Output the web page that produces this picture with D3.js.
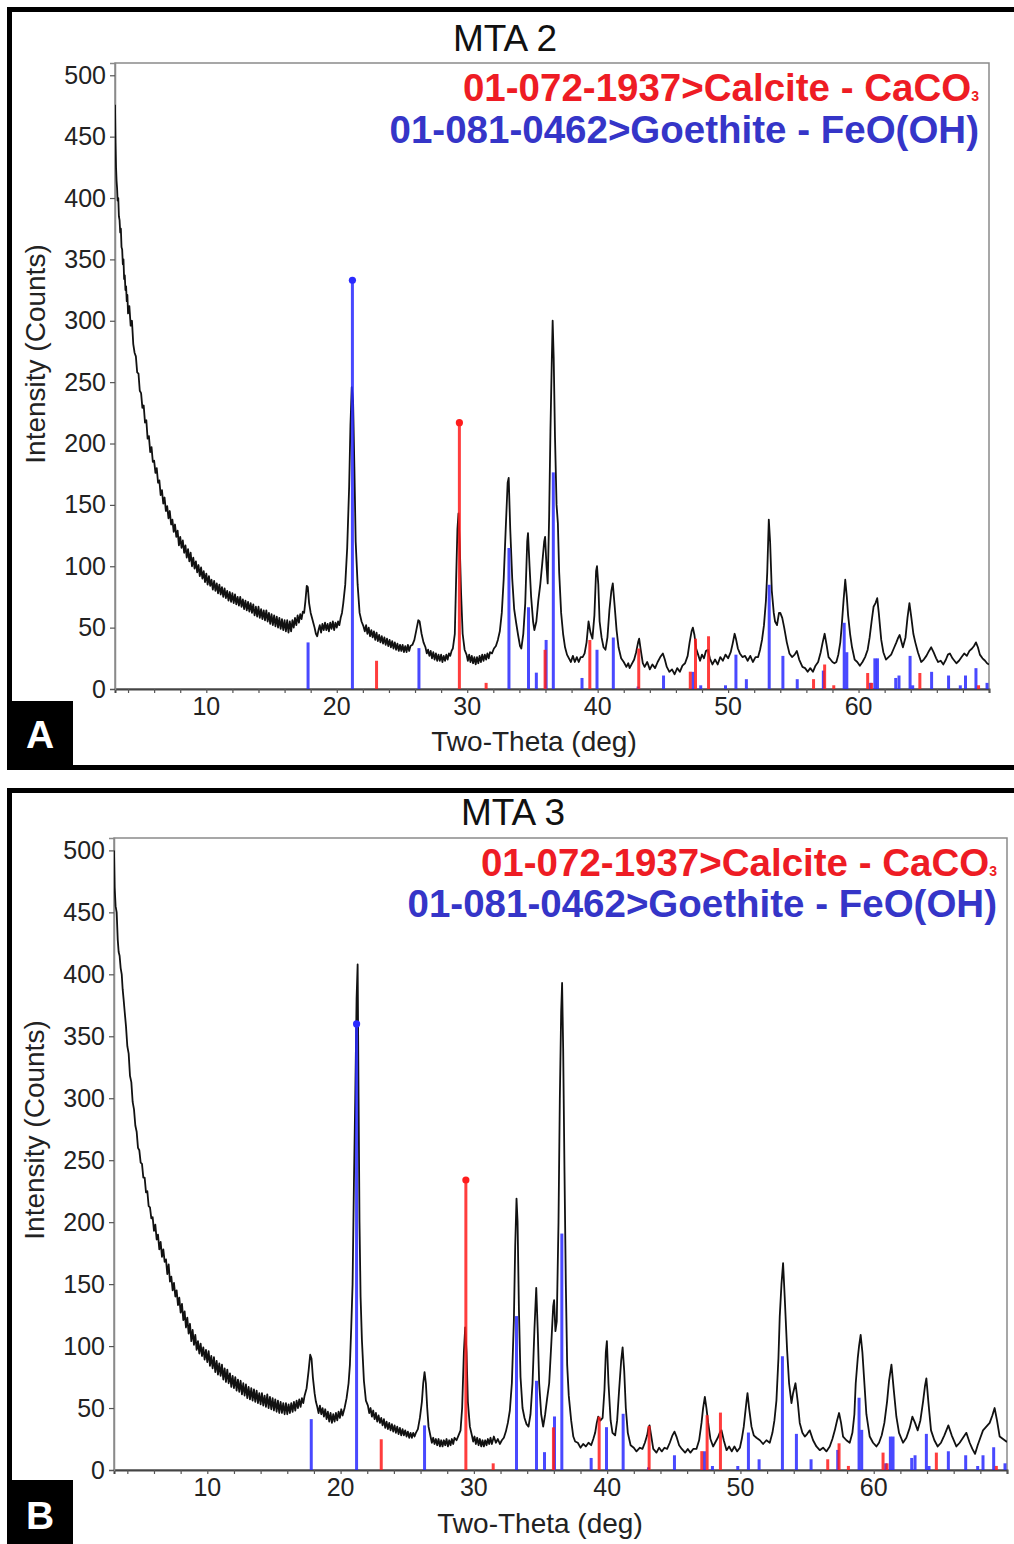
<!DOCTYPE html>
<html>
<head>
<meta charset="utf-8">
<script src="https://cdn.jsdelivr.net/npm/d3@7"></script>
<style>
  body { margin: 0; background: #fff; }
</style>
</head>
<body>
<div id="chart"></div>
<script>
var FONT = '"Liberation Sans", Arial, Helvetica, sans-serif';

// axis ticks
var xLabelTicks = [10, 20, 30, 40, 50, 60];
var xMinorTicks = [4, 6, 8, 10, 12, 14, 16, 18, 20, 22, 24, 26, 28, 30, 32, 34, 36, 38, 40, 42, 44, 46, 48, 50, 52, 54, 56, 58, 60, 62, 64, 66, 68, 70];
var yTicks = [0, 50, 100, 150, 200, 250, 300, 350, 400, 450, 500];

// reference cards: 2-theta position and relative intensity (%)
var goethitePos = [17.8, 21.2, 26.3, 33.2, 34.7, 35.3, 36.05, 36.6, 38.8, 39.95, 41.2, 43.1, 45.05, 47.3, 47.9, 49.8, 50.6, 51.4, 53.15, 54.2, 55.3, 57.3, 58.9, 59.1, 60.9, 61.25, 61.45, 62.85, 63.1, 63.95, 64.15, 65.6, 66.9, 67.8, 68.2, 69.0, 69.85];
var goethiteRel = [11.4, 100, 10, 34.5, 20, 4, 12, 53, 2.7, 9.6, 12.6, 0.6, 3.3, 4.2, 0.9, 0.9, 8.4, 2.4, 25.5, 8.1, 2.4, 4.5, 16.2, 9, 1.5, 7.5, 7.5, 2.7, 3.3, 8.1, 0.9, 4.2, 3.3, 0.9, 3.3, 5.1, 1.5];
var calcitePos = [23.05, 29.4, 31.45, 35.97, 39.4, 43.15, 47.1, 47.5, 48.5, 56.55, 57.4, 58.1, 60.7, 61.0, 64.7, 69.2];
var calciteRel = [10.6, 100, 2.3, 14.7, 18.4, 15.2, 6.5, 18.9, 19.8, 3.7, 9.2, 1.4, 6, 2.3, 6, 1.4];

// counts reached by the 100% stick in each panel
var goethiteTop = [333, 360];
var calciteTop = [217, 234];

var panelTitles = ['MTA 2', 'MTA 3'];
var panelLetters = ['A', 'B'];
var legendCalcite = '01-072-1937>Calcite - CaCO';
var legendGoethite = '01-081-0462>Goethite - FeO(OH)';

// measured patterns [2-theta, counts]
var mta2 = [[3.00,476],[3.04,445],[3.08,425],[3.12,414],[3.16,408],[3.2,398],[3.25,400],[3.3,385],[3.35,382],[3.4,372],[3.45,375],[3.5,360],[3.55,358],[3.6,346],[3.65,350],[3.7,334],[3.75,337],[3.8,325],[3.85,328],[3.9,316],[3.95,321],
[4.0,306],[4.1,312],[4.2,296],[4.3,300],[4.4,281],[4.5,274],[4.6,271],[4.7,258],[4.8,257],[4.9,243],[5.0,241],[5.1,229],[5.2,231],[5.3,217],[5.4,219],[5.5,204],[5.6,206],[5.7,193],[5.8,197],[5.9,185],[6.0,186],[6.1,176],[6.2,180],[6.3,168],[6.4,170],[6.5,158],[6.6,162],[6.7,151],[6.8,156],[6.9,145],[7.0,149],[7.1,139],[7.2,145],[7.3,134],[7.4,138],[7.5,128],[7.6,134],[7.7,124],[7.8,129],[7.9,117],[8.0,124],[8.1,115],[8.2,121],[8.3,111],[8.4,117],[8.5,107],[8.6,114],[8.7,104],[8.8,111],[8.9,100],[9.0,107],[9.1,98],[9.2,104],[9.3,95],[9.4,101],[9.5,92],[9.6,99],[9.7,90],[9.8,96],[9.9,87],[10.0,94],[10.1,85],[10.2,92],[10.3,84],[10.4,89],[10.5,81],[10.6,88],[10.7,80],[10.8,86],[10.9,78],[11.0,85],[11.1,77],[11.2,83],[11.3,75],[11.4,82],[11.5,74],[11.6,80],[11.7,72],[11.8,79],[11.9,71],[12.0,78],[12.1,70],[12.2,77],[12.3,69],[12.4,75],[12.5,68],[12.6,75],[12.7,67],[12.8,73],[12.9,65],[13.0,72],[13.1,64],[13.2,71],[13.3,63],[13.4,70],[13.5,62],[13.6,69],[13.7,60],[13.8,67],[13.9,59],[14.0,67],[14.1,58],[14.2,65],[14.3,57],[14.4,64],[14.5,56],[14.6,64],[14.7,55],[14.8,62],[14.9,53],[15.0,61],[15.1,52],[15.2,60],[15.3,51],[15.4,59],[15.5,50],[15.6,58],[15.7,49],[15.8,57],[15.9,48],[16.0,56],[16.1,47],[16.2,56],[16.3,46],[16.4,55],[16.5,47],[16.6,56],[16.7,50],[16.8,58],[16.9,52],[17.0,60],[17.1,54],[17.2,61],[17.3,57],[17.4,63],[17.5,62],[17.6,72],[17.7,84],[17.78,83],[17.88,70],[18.0,62],[18.1,58],[18.2,54],[18.3,50],[18.4,45],[18.5,43],[18.6,48],[18.7,52],[18.8,46],[18.9,53],[19.0,48],[19.1,54],[19.2,48],[19.3,53],[19.4,47],[19.5,54],[19.6,49],[19.7,55],[19.8,48],[19.9,54],[20.0,50],[20.1,55],[20.2,52],[20.3,58],
[20.4,62],[20.5,70],[20.65,85],[20.8,115],[20.95,165],[21.05,215],[21.15,246],[21.25,235],[21.35,181],[21.45,120],[21.6,85],[21.75,62],[21.9,55],
[22.05,51],[22.15,47],[22.25,52],[22.35,45],[22.45,50],[22.55,43],[22.65,48],[22.75,42],[22.85,47],[22.95,40],[23.05,46],[23.15,39],[23.25,44],[23.35,38],[23.45,43],[23.55,37],[23.65,42],[23.75,36],[23.85,41],[23.95,35],[24.05,40],[24.15,34],[24.25,39],[24.35,33],[24.45,38],[24.55,32],[24.65,37],[24.75,31],[24.85,36],[24.95,31],[25.05,36],[25.15,30],[25.25,35],[25.35,30],[25.45,36],[25.55,31],[25.65,35],[25.8,36],[25.95,40],[26.1,48],[26.25,56],[26.35,55],[26.5,45],[26.65,38],
[26.8,34],[26.9,29],[27.0,32],[27.1,27],[27.2,31],[27.3,25],[27.4,30],[27.5,24],[27.6,29],[27.7,23],[27.8,28],[27.9,23],[28.0,28],[28.1,22],[28.2,27],[28.3,23],[28.4,28],[28.5,24],[28.6,29],[28.7,27],[28.8,31],[28.9,33],
[29.05,45],[29.15,89],[29.25,130],[29.33,143],[29.42,120],[29.53,78],[29.65,45],[29.8,32],
[29.95,28],[30.05,23],[30.15,28],[30.25,22],[30.35,27],[30.45,21],[30.55,26],[30.65,20],[30.75,26],[30.85,21],[30.95,27],[31.05,22],[31.15,28],[31.25,23],[31.35,28],[31.45,24],[31.55,29],[31.65,25],[31.75,30],[31.9,29],
[32.05,33],[32.2,35],[32.35,40],[32.5,47],[32.65,62],[32.8,90],[32.95,130],[33.1,168],[33.18,172],[33.3,130],[33.45,90],[33.6,65],[33.75,54],[33.9,44],[34.05,35],[34.15,33],[34.3,45],[34.45,70],[34.6,120],[34.66,127],[34.78,100],[34.9,75],[35.05,55],[35.15,48],[35.3,55],[35.45,72],[35.6,85],[35.75,102],[35.9,120],[35.97,124],[36.08,100],[36.17,86],[36.28,140],[36.38,210],[36.48,265],[36.55,300],[36.63,270],[36.73,205],[36.85,150],[36.95,135],[37.05,95],[37.2,62],[37.35,45],[37.5,34],[37.65,28],[37.8,25],[37.95,22],[38.1,27],[38.25,22],[38.4,26],[38.55,22],[38.7,26],[38.85,26],[39.0,29],[39.15,38],[39.3,55],[39.45,46],[39.6,41],[39.75,60],[39.88,96],[39.95,100],[40.05,85],[40.15,55],[40.3,42],[40.45,34],[40.6,32],[40.75,42],[40.9,64],[41.05,80],[41.16,86],[41.3,68],[41.45,48],[41.6,34],[41.8,25],[42.0,22],[42.2,18],[42.35,21],[42.45,17],[42.6,20],[42.8,24],[42.95,30],[43.1,38],[43.18,41],[43.3,32],[43.46,21],[43.6,18],[43.8,22],[44.0,16],[44.2,20],[44.4,17],[44.6,22],[44.8,26],[45.0,29],[45.15,24],[45.3,18],[45.5,14],[45.7,16],[45.9,12],[46.1,17],[46.3,14],[46.5,19],[46.7,21],[46.9,27],[47.05,38],[47.2,47],[47.3,50],[47.42,44],[47.55,33],[47.7,28],[47.85,23],[48.0,28],[48.15,25],[48.3,31],[48.45,32],[48.6,25],[48.8,20],[49.0,24],[49.2,20],[49.4,26],[49.6,23],[49.8,28],[50.0,25],[50.2,30],[50.35,37],[50.5,45],[50.6,41],[50.75,33],[50.9,29],[51.1,26],[51.3,27],[51.5,23],[51.7,27],[51.9,22],[52.1,26],[52.3,26],[52.45,32],[52.6,40],[52.75,52],[52.9,72],[53.0,95],[53.12,138],[53.22,120],[53.35,80],[53.5,62],[53.6,55],[53.75,52],[53.9,62],[54.0,62],[54.15,58],[54.3,50],[54.5,38],[54.7,29],[54.9,26],[55.1,28],[55.27,31],[55.45,24],[55.7,18],[55.9,17],[56.1,14],[56.3,17],[56.5,14],[56.7,19],[56.9,22],[57.1,30],[57.25,38],[57.4,45],[57.55,36],[57.7,26],[57.85,24],[58.0,22],[58.15,21],[58.3,22],[58.45,28],[58.6,38],[58.7,50],[58.85,72],[58.98,89],[59.1,75],[59.2,60],[59.35,45],[59.5,34],[59.7,24],[59.9,22],[60.1,19],[60.3,22],[60.5,26],[60.7,32],[60.85,42],[61.0,55],[61.15,67],[61.3,70],[61.43,74],[61.55,62],[61.74,40],[61.9,30],[62.1,24],[62.3,26],[62.5,28],[62.7,33],[62.9,38],[63.05,42],[63.15,44],[63.4,34],[63.6,42],[63.75,58],[63.9,70],[64.05,58],[64.2,45],[64.35,38],[64.55,30],[64.8,22],[65.0,24],[65.2,27],[65.4,31],[65.57,34],[65.75,30],[65.95,25],[66.1,22],[66.3,23],[66.5,20],[66.7,24],[66.85,28],[67.0,29],[67.2,25],[67.5,21],[67.7,23],[67.9,26],[68.1,29],[68.3,27],[68.5,31],[68.7,33],[68.85,35],[69.0,38],[69.15,34],[69.3,28],[69.5,25],[69.7,23],[69.85,21],[70.0,20]];

var mta3 = [[3.0,500],[3.05,470],[3.12,455],[3.2,450],[3.28,428],[3.35,418],[3.42,415],[3.5,405],[3.58,400],[3.65,388],[3.72,380],[3.8,370],[3.9,358],
[4.0,342],[4.1,336],[4.2,318],[4.3,313],[4.4,297],[4.5,291],[4.6,278],[4.7,273],[4.8,260],[4.9,258],[5.0,248],[5.1,247],[5.2,236],[5.3,236],[5.4,224],[5.5,225],[5.6,213],[5.7,212],[5.8,203],[5.9,204],[6.0,193],[6.1,198],[6.2,186],[6.3,190],[6.4,178],[6.5,184],[6.6,172],[6.7,178],[6.8,168],[6.9,170],[7.0,158],[7.1,166],[7.2,152],[7.3,156],[7.4,145],[7.5,151],[7.6,140],[7.7,145],[7.8,133],[7.9,139],[8.0,127],[8.1,134],[8.2,121],[8.3,128],[8.4,115],[8.5,123],[8.6,110],[8.7,118],[8.8,104],[8.9,113],[9.0,101],[9.1,109],[9.2,97],[9.3,104],[9.4,94],[9.5,102],[9.6,92],[9.7,99],[9.8,89],[9.9,97],[10.0,87],[10.1,96],[10.2,84],[10.3,92],[10.4,82],[10.5,91],[10.6,79],[10.7,88],[10.8,77],[10.9,86],[11.0,76],[11.1,85],[11.2,73],[11.3,82],[11.4,71],[11.5,81],[11.6,70],[11.7,78],[11.8,67],[11.9,76],[12.0,66],[12.1,75],[12.2,64],[12.3,73],[12.4,63],[12.5,72],[12.6,61],[12.7,70],[12.8,60],[12.9,69],[13.0,58],[13.1,67],[13.2,57],[13.3,66],[13.4,56],[13.5,65],[13.6,55],[13.7,64],[13.8,54],[13.9,62],[14.0,53],[14.1,62],[14.2,52],[14.3,60],[14.4,51],[14.5,61],[14.6,50],[14.7,59],[14.8,49],[14.9,58],[15.0,48],[15.1,57],[15.2,47],[15.3,56],[15.4,46],[15.5,55],[15.6,46],[15.7,54],[15.8,45],[15.9,54],[16.0,45],[16.1,53],[16.2,46],[16.3,54],[16.4,47],[16.5,55],[16.6,48],[16.7,56],[16.8,50],[16.9,57],[17.0,51],[17.1,58],[17.2,54],[17.3,60],
[17.45,66],[17.6,80],[17.72,93],[17.82,90],[17.92,75],[18.05,62],
[18.15,55],[18.25,51],[18.35,46],[18.45,52],[18.55,45],[18.65,50],[18.75,43],[18.85,49],[18.95,41],[19.05,47],[19.15,39],[19.25,46],[19.35,38],[19.45,45],[19.55,39],[19.65,46],[19.75,40],[19.85,47],[19.95,42],[20.05,49],[20.15,44],[20.3,50],
[20.45,58],[20.6,70],[20.7,85],[20.8,115],[20.9,150],[21.0,230],[21.1,300],[21.2,380],[21.28,408],[21.35,300],[21.42,200],[21.5,140],[21.6,105],[21.75,72],[21.9,56],
[22.05,52],[22.15,46],[22.25,50],[22.35,43],[22.45,48],[22.55,41],[22.65,46],[22.75,39],[22.85,44],[22.95,38],[23.05,42],[23.15,36],[23.25,41],[23.35,34],[23.45,39],[23.55,33],[23.65,38],[23.75,32],[23.85,37],[23.95,31],[24.05,36],[24.15,30],[24.25,35],[24.35,29],[24.45,34],[24.55,28],[24.65,33],[24.75,28],[24.85,32],[24.95,27],[25.05,31],[25.15,26],[25.25,30],[25.35,26],[25.45,30],[25.55,27],[25.65,30],[25.8,33],
[25.95,42],[26.1,55],[26.2,70],[26.3,79],[26.4,70],[26.5,50],[26.6,35],
[26.75,27],[26.85,22],[26.95,26],[27.05,21],[27.15,25],[27.25,20],[27.35,25],[27.45,19],[27.55,24],[27.65,19],[27.75,24],[27.85,20],[27.95,25],[28.05,19],[28.15,24],[28.25,20],[28.35,25],[28.45,21],[28.55,26],[28.7,24],[28.85,28],
[29.0,32],[29.12,50],[29.25,95],[29.35,115],[29.45,95],[29.55,55],[29.7,35],
[29.85,28],[29.95,23],[30.05,27],[30.15,21],[30.25,26],[30.35,20],[30.45,25],[30.55,19],[30.65,24],[30.75,19],[30.85,24],[30.95,20],[31.05,25],[31.15,21],[31.25,26],[31.35,21],[31.5,27],[31.65,22],[31.8,25],[31.95,21],[32.1,24],[32.25,26],
[32.4,31],[32.55,38],[32.7,48],[32.85,70],[33.0,120],[33.1,180],[33.2,219],[33.28,200],[33.38,130],[33.5,75],[33.65,50],[33.8,42],[33.95,37],[34.1,35],[34.25,45],[34.4,70],[34.55,115],[34.68,147],[34.8,110],[34.9,70],[35.05,45],[35.2,35],[35.35,45],[35.5,58],[35.65,70],[35.8,100],[35.95,132],[36.02,137],[36.12,112],[36.22,120],[36.35,200],[36.45,300],[36.55,370],[36.62,393],[36.7,340],[36.8,240],[36.9,150],[37.0,85],[37.12,60],[37.3,40],[37.46,27],[37.6,23],[37.8,22],[38.0,18],[38.2,21],[38.4,19],[38.6,22],[38.8,20],[38.96,25],[39.1,30],[39.22,38],[39.33,43],[39.5,40],[39.66,42],[39.8,65],[39.9,95],[39.98,104],[40.1,70],[40.26,40],[40.4,30],[40.6,28],[40.75,40],[40.9,65],[41.05,88],[41.16,99],[41.28,80],[41.4,50],[41.55,30],[41.76,20],[42.0,18],[42.2,15],[42.46,18],[42.65,17],[42.83,22],[43.0,28],[43.1,34],[43.18,36],[43.3,28],[43.46,17],[43.7,14],[43.9,18],[44.1,15],[44.3,18],[44.5,17],[44.7,22],[44.9,28],[45.05,31],[45.2,27],[45.4,20],[45.6,17],[45.85,14],[46.05,17],[46.25,14],[46.46,17],[46.7,17],[46.9,24],[47.08,38],[47.2,50],[47.33,59],[47.45,50],[47.58,38],[47.75,25],[47.95,19],[48.1,22],[48.3,26],[48.45,30],[48.58,32],[48.75,24],[48.96,16],[49.15,19],[49.35,15],[49.55,19],[49.75,15],[49.96,18],[50.1,25],[50.25,35],[50.33,43],[50.45,55],[50.53,62],[50.65,50],[50.83,35],[51.0,28],[51.2,26],[51.46,24],[51.7,21],[51.95,24],[52.2,22],[52.4,30],[52.55,40],[52.7,56],[52.85,90],[52.95,124],[53.08,150],[53.2,167],[53.32,140],[53.5,97],[53.65,70],[53.83,54],[53.95,62],[54.13,70],[54.3,55],[54.45,38],[54.65,30],[54.83,27],[55.0,29],[55.2,32],[55.45,24],[55.7,19],[55.95,16],[56.2,18],[56.45,15],[56.7,19],[56.9,25],[57.08,32],[57.25,40],[57.4,46],[57.55,38],[57.7,27],[57.95,24],[58.2,22],[58.4,30],[58.55,45],[58.65,70],[58.8,90],[58.9,100],[59.02,109],[59.15,95],[59.3,70],[59.45,45],[59.7,27],[59.95,22],[60.2,19],[60.4,22],[60.6,28],[60.8,38],[61.0,55],[61.15,72],[61.33,85],[61.5,65],[61.7,43],[61.9,30],[62.2,22],[62.45,26],[62.7,34],[62.9,43],[63.1,38],[63.3,32],[63.5,40],[63.7,55],[63.85,68],[63.95,74],[64.1,55],[64.3,32],[64.55,24],[64.8,19],[65.05,22],[65.3,28],[65.6,36],[65.85,28],[66.2,19],[66.45,22],[66.7,26],[66.95,30],[67.2,22],[67.4,17],[67.6,13],[67.8,20],[68.0,26],[68.2,32],[68.45,35],[68.7,38],[68.9,44],[69.07,50],[69.25,40],[69.45,27],[69.7,25],[69.95,23],[70.0,23]];

var patterns = [mta2, mta3];

var W = 1014, H = 1544;
var svg = d3.select('#chart').append('svg').attr('width', W).attr('height', H);

// panel layout (pixels)
var layout = [
  { box: [9.5, 9.5, 1030, 758], left: 115, right: 989, top: 63, bottom: 689,
    titleX: 505, titleY: 51, legRight: 979, leg1: 101, leg2: 143,
    xTitleX: 534, xTitleY: 751, yTitleX: 45, yTitleY: 354, tag: [7, 701, 66, 67], tagY: 748 },
  { box: [9.5, 790.5, 1030, 780], left: 114, right: 1007, top: 838, bottom: 1470,
    titleX: 513, titleY: 825, legRight: 997, leg1: 876, leg2: 917,
    xTitleX: 540, xTitleY: 1533, yTitleX: 44, yTitleY: 1130, tag: [7, 1480, 66, 70], tagY: 1529 }
];

var RED = '#ff1c1c', BLUE = '#2a2aff';

function drawPanel(i) {
  var L = layout[i];
  var data = patterns[i];
  var x = d3.scaleLinear().domain([3, 70]).range([L.left, L.right]);
  var y = d3.scaleLinear().domain([0, 510]).range([L.bottom, L.top]);
  var g = svg.append('g');

  // outer panel border
  g.append('rect').attr('x', L.box[0]).attr('y', L.box[1]).attr('width', L.box[2]).attr('height', L.box[3])
    .attr('fill', 'none').attr('stroke', '#000').attr('stroke-width', 5);

  // plot frame
  g.append('rect').attr('x', L.left).attr('y', L.top).attr('width', L.right - L.left).attr('height', L.bottom - L.top)
    .attr('fill', '#fff').attr('stroke', '#8a8a8a').attr('stroke-width', 1.5);

  // x axis
  var xa = g.append('g').attr('transform', 'translate(0,' + L.bottom + ')')
    .call(d3.axisBottom(x).tickValues(xMinorTicks).tickSize(4).tickFormat(''));
  xa.select('.domain').attr('stroke', '#444').attr('stroke-width', 2);
  xa.selectAll('.tick line').attr('stroke', '#555').attr('stroke-width', 1.2);
  g.selectAll('text.xl').data(xLabelTicks).join('text').attr('class', 'xl')
    .attr('x', function(d) { return x(d); }).attr('y', L.bottom + 26)
    .attr('text-anchor', 'middle').attr('font-family', FONT).attr('font-size', '25px').attr('fill', '#222')
    .text(function(d) { return d; });

  // y axis
  var ya = g.append('g').attr('transform', 'translate(' + L.left + ',0)')
    .call(d3.axisLeft(y).tickValues(yTicks).tickSize(5).tickPadding(4).tickFormat(d3.format('d')));
  ya.select('.domain').attr('stroke', '#8a8a8a').attr('stroke-width', 1.5);
  ya.selectAll('.tick line').attr('stroke', '#555').attr('stroke-width', 1.2);
  ya.selectAll('.tick text').attr('font-family', FONT).attr('font-size', '25px').attr('fill', '#222');

  // clip
  var cid = 'clip' + i;
  svg.append('clipPath').attr('id', cid).append('rect')
    .attr('x', L.left).attr('y', L.top).attr('width', L.right - L.left).attr('height', L.bottom - L.top);
  var plot = g.append('g').attr('clip-path', 'url(#' + cid + ')');

  // measured pattern
  var line = d3.line().x(function(d) { return x(d[0]); }).y(function(d) { return y(d[1]); });
  plot.append('path').datum(data).attr('d', line)
    .attr('fill', 'none').attr('stroke', '#111').attr('stroke-width', 1.8).attr('stroke-linejoin', 'round');

  // reference sticks
  function sticks(pos, rel, top, color) {
    var items = pos.map(function(p, k) { return { p: p, h: rel[k] * top / 100 }; });
    plot.append('g').selectAll('line').data(items).join('line')
      .attr('x1', function(d) { return x(d.p); }).attr('x2', function(d) { return x(d.p); })
      .attr('y1', y(0)).attr('y2', function(d) { return y(d.h); })
      .attr('stroke', color).attr('stroke-width', 3).attr('opacity', 0.85);
    var main = items.filter(function(d) { return d.h === top; });
    plot.append('g').selectAll('circle').data(main).join('circle')
      .attr('cx', function(d) { return x(d.p); }).attr('cy', function(d) { return y(d.h); })
      .attr('r', 3.6).attr('fill', color);
  }
  sticks(goethitePos, goethiteRel, goethiteTop[i], BLUE);
  sticks(calcitePos, calciteRel, calciteTop[i], RED);

  // title
  g.append('text').attr('x', L.titleX).attr('y', L.titleY).attr('text-anchor', 'middle')
    .attr('font-family', FONT).attr('font-size', '37px').attr('fill', '#111').text(panelTitles[i]);

  // legend
  var t1 = g.append('text').attr('x', L.legRight).attr('y', L.leg1).attr('text-anchor', 'end')
    .attr('font-family', FONT).attr('font-size', '38.5px').attr('font-weight', 'bold').attr('fill', '#ee1c24');
  t1.append('tspan').text(legendCalcite);
  t1.append('tspan').attr('font-size', '14px').text('3');
  g.append('text').attr('x', L.legRight).attr('y', L.leg2).attr('text-anchor', 'end')
    .attr('font-family', FONT).attr('font-size', '38.5px').attr('font-weight', 'bold').attr('fill', '#3535c8')
    .text(legendGoethite);

  // axis titles
  g.append('text').attr('x', L.xTitleX).attr('y', L.xTitleY).attr('text-anchor', 'middle')
    .attr('font-family', FONT).attr('font-size', '28px').attr('fill', '#222').text('Two-Theta (deg)');
  g.append('text').attr('transform', 'translate(' + L.yTitleX + ',' + L.yTitleY + ') rotate(-90)')
    .attr('text-anchor', 'middle').attr('font-family', FONT).attr('font-size', '28px').attr('fill', '#222')
    .text('Intensity (Counts)');

  // panel tag
  g.append('rect').attr('x', L.tag[0]).attr('y', L.tag[1]).attr('width', L.tag[2]).attr('height', L.tag[3]).attr('fill', '#000');
  g.append('text').attr('x', L.tag[0] + L.tag[2] / 2).attr('y', L.tagY).attr('text-anchor', 'middle')
    .attr('font-family', FONT).attr('font-size', '39px').attr('font-weight', 'bold').attr('fill', '#fff')
    .text(panelLetters[i]);
}

drawPanel(0);
drawPanel(1);
</script>
</body>
</html>
